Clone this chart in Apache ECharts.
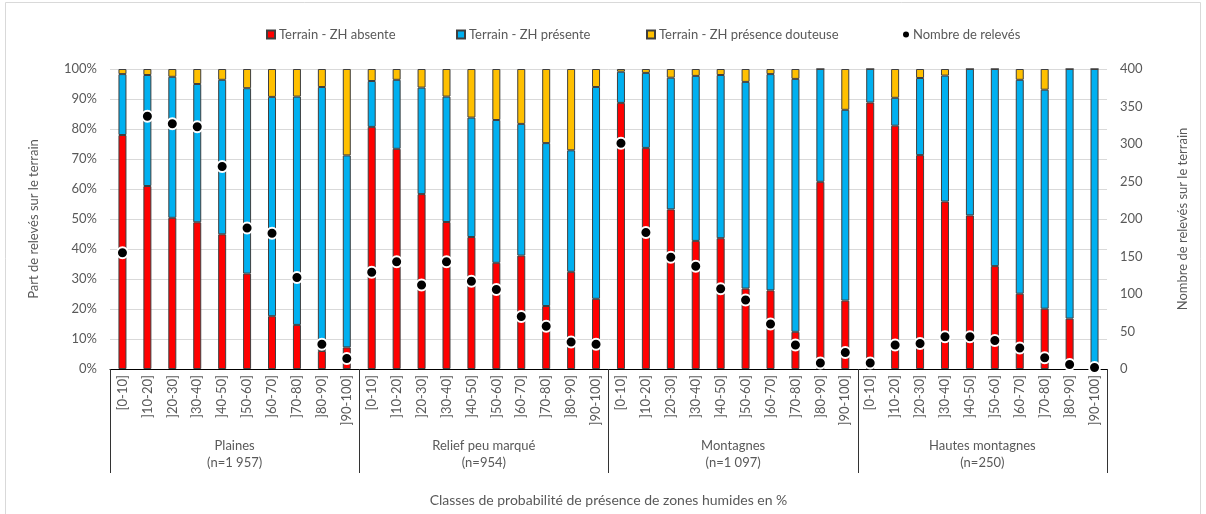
<!DOCTYPE html>
<html>
<head>
<meta charset="utf-8">
<script src="https://cdn.jsdelivr.net/npm/echarts@6/dist/echarts.min.js"></script>
<style>
html,body{margin:0;padding:0;background:#fff;}
#c{width:1206px;height:514px;}
</style>
</head>
<body>
<div id="c"></div>
<script>
const classLabels = ['[0-10]', ']10-20]', ']20-30]', ']30-40]', ']40-50]', ']50-60]', ']60-70]', ']70-80]', ']80-90]', ']90-100]'];
const groups = ['Plaines\n(n=1 957)', 'Relief peu marqué\n(n=954)', 'Montagnes\n(n=1 097)', 'Hautes montagnes\n(n=250)'];

const absent = [78.0, 61.0, 50.4, 48.9, 44.9, 31.8, 17.6, 14.7, 6.0, 7.2,
  80.7, 73.4, 58.3, 49.0, 44.0, 35.4, 37.8, 21.0, 32.4, 23.4,
  88.7, 73.7, 53.2, 42.7, 43.6, 26.8, 26.2, 12.4, 62.4, 22.8,
  88.8, 81.1, 71.3, 55.8, 51.2, 34.3, 25.1, 20.1, 16.8, 0];
const present = [20.3, 37.0, 47.0, 46.1, 51.5, 61.8, 73.1, 76.1, 88.0, 64.0,
  15.3, 23.0, 35.5, 41.8, 39.8, 47.6, 43.9, 54.3, 40.5, 70.6,
  10.4, 25.0, 43.9, 55.0, 54.4, 68.9, 72.1, 84.3, 37.6, 63.6,
  11.2, 9.3, 25.7, 42.0, 48.8, 65.7, 71.3, 73.0, 83.2, 100];
const doubtful = [1.7, 2.0, 2.6, 5.0, 3.6, 6.4, 9.3, 9.2, 6.0, 28.8,
  4.0, 3.6, 6.2, 9.2, 16.2, 17.0, 18.3, 24.7, 27.1, 6.0,
  0.9, 1.3, 2.9, 2.3, 2.0, 4.3, 1.7, 3.3, 0, 13.6,
  0, 9.6, 3.0, 2.2, 0, 0, 3.6, 6.9, 0, 0];
const counts = [155, 337, 327, 323, 270, 188, 181, 122, 33, 14,
  129, 143, 112, 143, 117, 106, 70, 57, 36, 33,
  301, 182, 149, 137, 107, 92, 60, 32, 8, 22,
  8, 32, 34, 43, 43, 38, 28, 15, 6, 2];

const seriesNames = ['Terrain - ZH absente', 'Terrain - ZH présente', 'Terrain - ZH présence douteuse', 'Nombre de relevés'];

const categories = [];
groups.forEach(() => classLabels.forEach(l => categories.push(l)));

const FONT = 'Lato, "Open Sans", sans-serif';
const TXT = '#595959';
const BORDER = '#3f3f3f';

const chart = echarts.init(document.getElementById('c'), null, {renderer: 'canvas'});

function legendAt(name, left, icon, extra) {
  return Object.assign({
    data: [name], left: left, top: 23, icon: icon,
    itemWidth: 8, itemHeight: 8, itemGap: 4,
    textStyle: {fontFamily: FONT, fontSize: 13, color: TXT, padding: [0, 0, 0, -1]},
    selectedMode: false
  }, extra || {});
}

const option = {
  backgroundColor: '#fff',
  animation: false,
  graphic: [{
    type: 'rect', shape: {x: 5.5, y: 2.5, width: 1195, height: 520},
    style: {fill: 'none', stroke: '#d9d9d9', lineWidth: 1}, silent: true, z: -10
  }],
  legend: [
    legendAt(seriesNames[0], 261, 'rect'),
    legendAt(seriesNames[1], 451, 'rect'),
    legendAt(seriesNames[2], 641, 'rect'),
    legendAt(seriesNames[3], 898, 'circle', {itemWidth: 6, itemHeight: 6,
      itemStyle: {borderWidth: 0}})
  ],
  grid: {left: 110, right: 99, top: 69, bottom: 145, containLabel: false},
  xAxis: [{
    type: 'category', data: categories, gridIndex: 0, position: 'bottom',
    axisLine: {show: true, lineStyle: {color: '#000', width: 1}},
    axisTick: {show: false},
    axisLabel: {rotate: 90, interval: 0, margin: 6, fontFamily: FONT, fontSize: 13, color: TXT},
    splitLine: {show: false},
    name: 'Classes de probabilité de présence de zones humides en %',
    nameLocation: 'middle', nameGap: 124,
    nameTextStyle: {fontFamily: FONT, fontSize: 14, color: TXT}
  }, {
    type: 'category', data: groups, gridIndex: 0, position: 'bottom', offset: 0,
    axisLine: {show: false},
    axisTick: {show: true, length: 104, interval: 0, lineStyle: {color: '#333', width: 1}},
    axisLabel: {interval: 0, margin: 68, fontFamily: FONT, fontSize: 13, color: TXT, lineHeight: 17},
    splitLine: {show: false}
  }],
  yAxis: [{
    type: 'value', min: 0, max: 100, interval: 10, position: 'left',
    axisLine: {show: false}, axisTick: {show: false},
    axisLabel: {formatter: '{value}%', margin: 13, fontFamily: FONT, fontSize: 13, color: TXT},
    splitLine: {show: true, lineStyle: {color: '#d9d9d9', width: 1}},
    name: 'Part de relevés sur le terrain', nameLocation: 'middle', nameGap: 70, nameRotate: 90,
    nameTextStyle: {fontFamily: FONT, fontSize: 13, color: TXT}
  }, {
    type: 'value', min: 0, max: 400, interval: 50, position: 'right',
    axisLine: {show: false}, axisTick: {show: false},
    axisLabel: {margin: 13, fontFamily: FONT, fontSize: 13, color: TXT},
    splitLine: {show: false},
    name: 'Nombre de relevés sur le terrain', nameLocation: 'middle', nameGap: 69, nameRotate: 90,
    nameTextStyle: {fontFamily: FONT, fontSize: 13, color: TXT}
  }],
  series: [{
    name: seriesNames[0], type: 'bar', stack: 'p', data: absent, xAxisIndex: 0, yAxisIndex: 0,
    barWidth: 8, itemStyle: {color: '#FF0000', borderColor: BORDER, borderWidth: 1}
  }, {
    name: seriesNames[1], type: 'bar', stack: 'p', data: present, xAxisIndex: 0, yAxisIndex: 0,
    barWidth: 8, itemStyle: {color: '#00B0F0', borderColor: BORDER, borderWidth: 1}
  }, {
    name: seriesNames[2], type: 'bar', stack: 'p', data: doubtful, xAxisIndex: 0, yAxisIndex: 0,
    barWidth: 8, itemStyle: {color: '#FFC000', borderColor: BORDER, borderWidth: 1}
  }, {
    name: seriesNames[3], type: 'scatter', data: counts, xAxisIndex: 0, yAxisIndex: 1,
    symbol: 'circle', symbolSize: 11, z: 5,
    itemStyle: {color: '#000', borderColor: '#fff', borderWidth: 2, opacity: 1}
  }]
};
chart.setOption(option);
</script>
</body>
</html>
